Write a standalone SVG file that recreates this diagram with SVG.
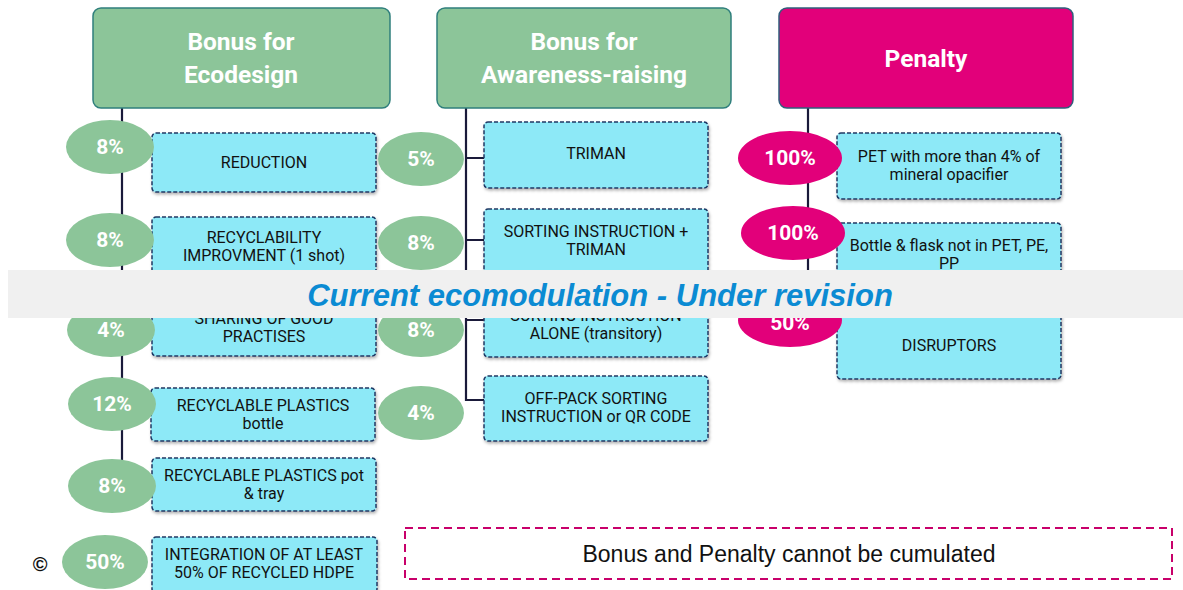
<svg xmlns="http://www.w3.org/2000/svg" width="1183" height="590" viewBox="0 0 1183 590">
<defs>
<filter id="sh" x="-10%" y="-10%" width="120%" height="130%"><feDropShadow dx="1" dy="2" stdDeviation="1.5" flood-color="#000" flood-opacity="0.3"/></filter>
</defs>
<style>
.hdr{fill:#8CC599;stroke:#2F7F7C;stroke-width:1.5}
.pen{fill:#E2007A;stroke:#2F5F7C;stroke-width:1.5}
.ht{font-family:Roboto,"Liberation Sans",sans-serif;font-weight:bold;font-size:24.5px;fill:#fff;text-anchor:middle}
.box{fill:#8DE9F7;stroke:#1F3864;stroke-width:1.5;stroke-dasharray:4 2;filter:url(#sh)}
.bt{font-family:Roboto,"Liberation Sans",sans-serif;font-size:16px;fill:#111;text-anchor:middle}
.eg{fill:#8CC599}
.em{fill:#E2007A}
.pt{font-family:Roboto,"Liberation Sans",sans-serif;font-weight:bold;font-size:21px;fill:#fff;text-anchor:middle}
.ln{stroke:#1A1A3A;stroke-width:2.2;fill:none}
</style>
<rect width="1183" height="590" fill="#fff"/>
<g id="connectors">
<line class="ln" x1="122" y1="108" x2="122" y2="470"/>
<path class="ln" d="M466 108 V400 H484 M466 158 H484 M466 240 H484 M466 320 H484"/>
<line class="ln" x1="808" y1="108" x2="808" y2="330"/>
</g>
<g id="h-ecodesign"><rect class="hdr" x="93" y="8" width="297" height="100" rx="8"/><text class="ht" x="241" y="50">Bonus for</text><text class="ht" x="241" y="83">Ecodesign</text></g>
<g id="h-awareness"><rect class="hdr" x="437" y="8" width="294" height="100" rx="8"/><text class="ht" x="584" y="50">Bonus for</text><text class="ht" x="584" y="83">Awareness-raising</text></g>
<g id="h-penalty"><rect class="pen" x="779" y="8" width="294" height="100" rx="8"/><text class="ht" x="926" y="67">Penalty</text></g>

<g id="b-reduction"><rect class="box" x="152" y="133" width="224" height="59" rx="4"/><text class="bt" x="264" y="168">REDUCTION</text></g>
<g id="b-recyclability"><rect class="box" x="152" y="217" width="224" height="60" rx="4"/><text class="bt" x="264" y="243">RECYCLABILITY</text><text class="bt" x="264" y="261">IMPROVMENT (1 shot)</text></g>
<g id="b-sharing"><rect class="box" x="152" y="296" width="224" height="60" rx="4"/><text class="bt" x="264" y="324">SHARING OF GOOD</text><text class="bt" x="264" y="342">PRACTISES</text></g>
<g id="b-bottle"><rect class="box" x="151" y="388" width="224" height="53" rx="4"/><text class="bt" x="263" y="411">RECYCLABLE PLASTICS</text><text class="bt" x="263" y="429">bottle</text></g>
<g id="b-pot"><rect class="box" x="152" y="458" width="224" height="53" rx="4"/><text class="bt" x="264" y="481">RECYCLABLE PLASTICS pot</text><text class="bt" x="264" y="499">&amp; tray</text></g>
<g id="b-hdpe"><rect class="box" x="152" y="537" width="225" height="56" rx="4"/><text class="bt" x="264" y="560">INTEGRATION OF AT LEAST</text><text class="bt" x="264" y="578">50% OF RECYCLED HDPE</text></g>

<g id="p1"><ellipse class="eg" cx="110" cy="147" rx="44" ry="27"/><text class="pt" x="110" y="154">8%</text></g>
<g id="p2"><ellipse class="eg" cx="110" cy="240" rx="44" ry="27"/><text class="pt" x="110" y="247">8%</text></g>
<g id="p3"><ellipse class="eg" cx="111" cy="330" rx="44" ry="27"/><text class="pt" x="111" y="337">4%</text></g>
<g id="p4"><ellipse class="eg" cx="112" cy="404" rx="44" ry="27"/><text class="pt" x="112" y="411">12%</text></g>
<g id="p5"><ellipse class="eg" cx="112" cy="486" rx="44" ry="27"/><text class="pt" x="112" y="493">8%</text></g>
<g id="p6"><ellipse class="eg" cx="105" cy="562" rx="43" ry="27"/><text class="pt" x="105" y="569">50%</text></g>

<g id="b-triman"><rect class="box" x="484" y="122" width="224" height="66" rx="4"/><text class="bt" x="596" y="159">TRIMAN</text></g>
<g id="b-sort-triman"><rect class="box" x="484" y="209" width="224" height="66" rx="4"/><text class="bt" x="596" y="237">SORTING INSTRUCTION +</text><text class="bt" x="596" y="255">TRIMAN</text></g>
<g id="b-sort-alone"><rect class="box" x="484" y="291" width="224" height="66" rx="4"/><text class="bt" x="596" y="321">SORTING INSTRUCTION</text><text class="bt" x="596" y="339">ALONE (transitory)</text></g>
<g id="b-offpack"><rect class="box" x="484" y="376" width="224" height="65" rx="4"/><text class="bt" x="596" y="404">OFF-PACK SORTING</text><text class="bt" x="596" y="422">INSTRUCTION or QR CODE</text></g>

<g id="m1"><ellipse class="eg" cx="421" cy="159" rx="43" ry="27"/><text class="pt" x="421" y="166">5%</text></g>
<g id="m2"><ellipse class="eg" cx="421" cy="243" rx="43" ry="27"/><text class="pt" x="421" y="250">8%</text></g>
<g id="m3"><ellipse class="eg" cx="421" cy="330" rx="43" ry="27"/><text class="pt" x="421" y="337">8%</text></g>
<g id="m4"><ellipse class="eg" cx="421" cy="413" rx="43" ry="27"/><text class="pt" x="421" y="420">4%</text></g>

<g id="b-pet"><rect class="box" x="837" y="133" width="224" height="66" rx="4"/><text class="bt" x="949" y="162">PET with more than 4% of</text><text class="bt" x="949" y="180">mineral opacifier</text></g>
<g id="b-flask"><rect class="box" x="837" y="223" width="224" height="62" rx="4"/><text class="bt" x="949" y="251" font-size="15.5">Bottle &amp; flask not in PET, PE,</text><text class="bt" x="949" y="269" font-size="15.5">PP</text></g>
<g id="b-disruptors"><rect class="box" x="837" y="300" width="224" height="79" rx="4"/><text class="bt" x="949" y="351">DISRUPTORS</text></g>

<g id="r1"><ellipse class="em" cx="790" cy="158" rx="52" ry="27"/><text class="pt" x="790" y="165">100%</text></g>
<g id="r2"><ellipse class="em" cx="793" cy="233" rx="52" ry="27"/><text class="pt" x="793" y="240">100%</text></g>
<g id="r3"><ellipse class="em" cx="790" cy="320" rx="52" ry="27"/><text class="pt" x="790" y="330">50%</text></g>

<g id="banner"><rect x="8" y="270" width="1175" height="48" fill="#F0F0F0"/><text x="600" y="306" font-family="'Liberation Sans',Arial,sans-serif" font-weight="bold" font-style="italic" font-size="31" fill="#0B8BD3" text-anchor="middle">Current ecomodulation - Under revision</text></g>

<g id="note"><rect x="405" y="528" width="767" height="51" fill="none" stroke="#C8006A" stroke-width="2" stroke-dasharray="8 5"/><text x="789" y="562" font-family="'Liberation Sans',Arial,sans-serif" font-size="23" fill="#111" text-anchor="middle">Bonus and Penalty cannot be cumulated</text></g>
<text x="40" y="571" font-family="'Liberation Sans',Arial,sans-serif" font-weight="bold" font-size="20" fill="#111" text-anchor="middle">©</text>
</svg>
